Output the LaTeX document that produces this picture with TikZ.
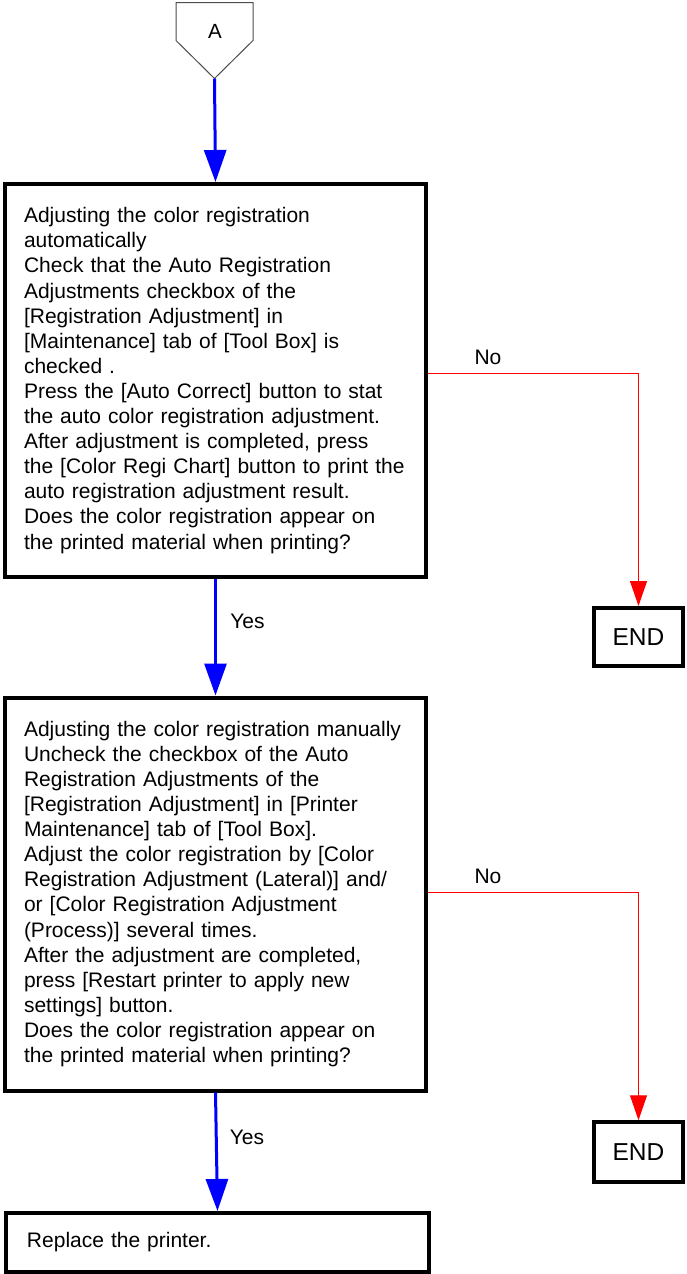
\documentclass[tikz,border=0pt]{standalone}
\usepackage{fontspec}
\setmainfont{Liberation Sans}
\usetikzlibrary{arrows.meta,positioning}

\begin{document}
\begin{tikzpicture}[x=1pt,y=-1pt,font=\fontsize{21}{25.1}\selectfont,
  stepbox/.style={draw,line width=4pt,align=left,inner xsep=19pt,inner ysep=0pt},
  endbox/.style={draw,line width=4pt,minimum width=89pt,inner sep=0pt,font=\fontsize{24.5}{28}\selectfont},
  yesflow/.style={draw=blue,line width=3pt,-{Triangle[width=22pt,length=32pt]}},
  noflow/.style={draw=red,line width=1pt,-{Triangle[width=17pt,length=25pt]}}]
  \useasboundingbox (0,0) rectangle (686,1274);

  % off-page connector
  \draw[draw=black!70,line width=1pt] (176,2.5) -- (253,2.5) -- (253,40.5) -- (214.5,78.5) -- (176,40.5) -- cycle;
  \node[font=\fontsize{20.5}{24}\selectfont] (A) at (215,31) {A};
  \coordinate (Atip) at (214.5,78.5);

  \node[stepbox,minimum width=421pt,minimum height=393pt,text width=383pt] (auto) at (215.5,380.5)
    {Adjusting the color registration\\
     automatically\\
     Check that the Auto Registration\\
     Adjustments checkbox of the\\
     {[}Registration Adjustment] in\\
     {[}Maintenance] tab of [Tool Box] is\\
     checked .\\
     Press the [Auto Correct] button to stat\\
     the auto color registration adjustment.\\
     After adjustment is completed, press\\
     the [Color Regi Chart] button to print the\\
     auto registration adjustment result.\\
     Does the color registration appear on\\
     the printed material when printing?};
  \node[stepbox,minimum width=421pt,minimum height=393pt,text width=383pt] (manual) at (215.5,894)
    {Adjusting the color registration manually\\
     Uncheck the checkbox of the Auto\\
     Registration Adjustments of the\\
     {[}Registration Adjustment] in [Printer\\
     Maintenance] tab of [Tool Box].\\
     Adjust the color registration by [Color\\
     Registration Adjustment (Lateral)] and/\\
     or [Color Registration Adjustment\\
     (Process)] several times.\\
     After the adjustment are completed,\\
     press [Restart printer to apply new\\
     settings] button.\\
     Does the color registration appear on\\
     the printed material when printing?};
  \node[stepbox,minimum width=423pt,minimum height=59pt,text width=381pt,inner xsep=21pt] (replace) at (217.5,1242.5)
    {Replace the printer.};
  \node[endbox,minimum height=58pt] (end1) at (638.5,637) {END};
  \node[endbox,minimum height=59.5pt] (end2) at (638.5,1152) {END};

  \draw[yesflow] (Atip) -- (auto.north);
  \draw[yesflow] (auto.south) -- (manual.north);
  \draw[yesflow] (manual.south) -- (replace.north);
  \node (yes1) at (247.5,621) {Yes};
  \node (yes2) at (247,1137) {Yes};

  \draw[noflow] ([yshift=7.5pt]auto.east) -| (end1.north);
  \draw[noflow] ([yshift=2pt]manual.east) -| (end2.north);
  \node (no1) at (488,357) {No};
  \node (no2) at (488,876) {No};
\end{tikzpicture}
\end{document}
